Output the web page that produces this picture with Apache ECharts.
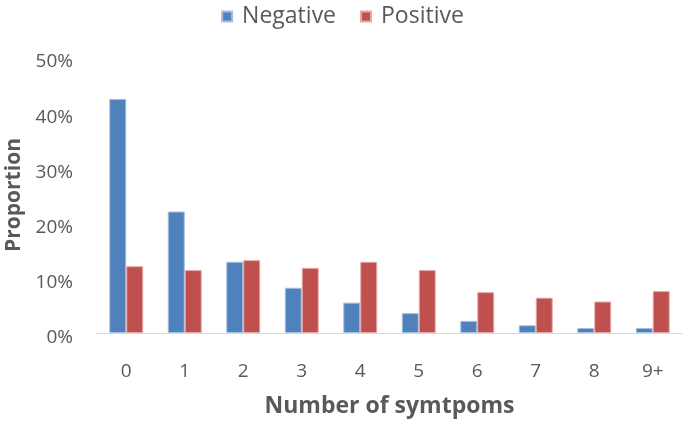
<!DOCTYPE html>
<html><head><meta charset="utf-8">
<script src="https://cdn.jsdelivr.net/npm/echarts@6/dist/echarts.min.js"></script>
<style>html,body{margin:0;padding:0;background:#fff}#c{width:685px;height:423px}</style>
</head><body><div id="c"></div>
<script>
const categories = ['0','1','2','3','4','5','6','7','8','9+'];
const negative = [0.424, 0.220, 0.129, 0.082, 0.055, 0.036, 0.022, 0.014, 0.009, 0.009];
const positive = [0.121, 0.114, 0.132, 0.118, 0.129, 0.114, 0.074, 0.064, 0.057, 0.076];
const yTicks = [0, 0.1, 0.2, 0.3, 0.4, 0.5];

const font = '"Open Sans", Lato, sans-serif';
const chart = echarts.init(document.getElementById('c'));
chart.setOption({
  animation: false,
  textStyle: { fontFamily: font },
  legend: {
    top: 0, left: 'center',
    itemWidth: 10, itemHeight: 10, itemGap: 24,
    icon: 'rect',
    textStyle: { fontSize: 23, color: '#595959', fontFamily: font, padding: [0,0,0,5] },
    data: ['Negative', 'Positive']
  },
  grid: { left: 97, right: 3, top: 57, bottom: 90, containLabel: false, outerBoundsMode: 'none' },
  xAxis: {
    type: 'category', data: categories,
    name: 'Number of symtpoms', nameLocation: 'middle', nameGap: 62,
    nameTextStyle: { fontSize: 23, fontWeight: 'bold', color: '#595959', fontFamily: font },
    axisLine: { lineStyle: { color: '#D9D9D9', width: 1 } },
    axisTick: { show: false },
    axisLabel: { fontSize: 19, color: '#595959', margin: 29, fontFamily: font }
  },
  yAxis: {
    type: 'value', min: yTicks[0], max: yTicks[yTicks.length-1], interval: 0.1,
    name: 'Proportion', nameLocation: 'middle', nameGap: 71, nameRotate: 90,
    nameTextStyle: { fontSize: 21, fontWeight: 'bold', color: '#595959', fontFamily: font },
    axisLine: { show: false }, axisTick: { show: false },
    splitLine: { show: false },
    axisLabel: { fontSize: 19, color: '#595959', margin: 24, fontFamily: font,
      formatter: v => '{a|' + Math.round(v*100) + '%}',
      rich: { a: { fontSize: 19, color: '#595959', fontFamily: font, padding: [10, 0, 0, 0] } } }
  },
  series: [
    { name: 'Negative', type: 'bar', data: negative, barGap: '0%', barCategoryGap: '42%',
      itemStyle: { color: '#4F81BD', borderColor: '#A7BFE0', borderWidth: 1 } },
    { name: 'Positive', type: 'bar', data: positive,
      itemStyle: { color: '#C0504D', borderColor: '#E3A9A7', borderWidth: 1 } }
  ]
});
</script></body></html>
